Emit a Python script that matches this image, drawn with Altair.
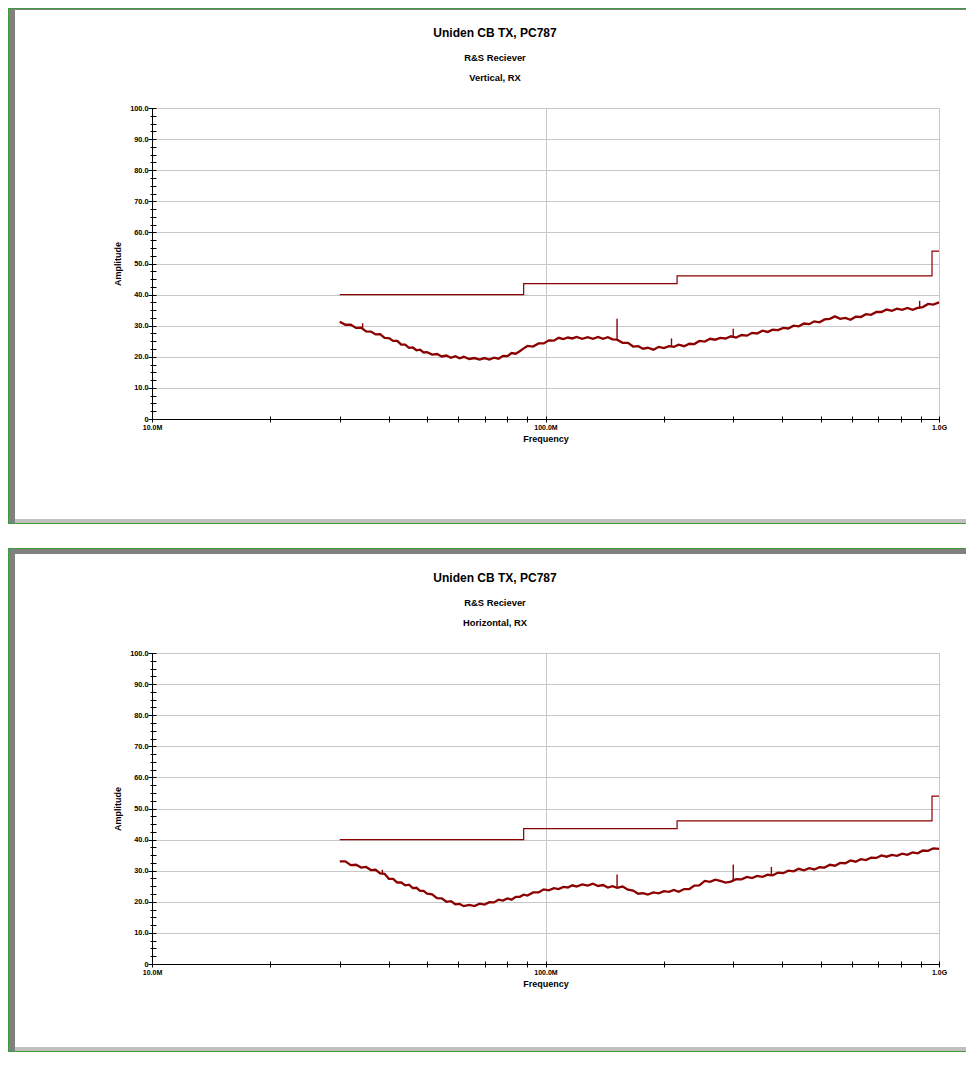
import altair as alt
import pandas as pd

# ---------------- data ----------------
FREQ_MHZ = [30, 31, 32, 33, 34, 35, 36, 37, 38, 39, 40, 41, 42, 43, 44, 45, 46, 47, 48, 49,
            50, 51.5, 53, 54.5, 56, 57.5, 59, 60.5, 62, 64, 66, 68, 70, 72, 74, 76, 78, 80,
            82, 84, 86, 88, 90, 93, 96, 99, 102, 105, 108, 111, 114, 117, 120, 124, 128, 132,
            136, 140, 144, 148, 152, 157, 162, 167, 172, 177, 182, 188, 194, 200, 206, 212,
            218, 225, 232, 239, 246, 254, 262, 270, 278, 287, 296, 305, 315, 325, 335, 345,
            356, 367, 378, 390, 402, 414, 427, 440, 454, 468, 482, 497, 512, 528, 544, 561,
            578, 596, 614, 633, 652, 672, 693, 714, 736, 759, 782, 806, 831, 857, 883, 910,
            938, 967, 1000]

VERTICAL_DB = [31.3, 30.3, 30.3, 29.3, 29.4, 28.2, 28.1, 27.2, 27.3, 26.1,
               26.0, 25.1, 25.1, 23.9, 23.9, 22.9, 23.0, 22.1, 22.3, 21.4,
               21.5, 20.7, 20.9, 20.1, 20.4, 19.7, 20.2, 19.5, 20.0, 19.3,
               19.6, 19.1, 19.6, 19.1, 19.7, 19.4, 20.3, 20.2, 21.2, 21.0,
               21.8, 22.7, 23.5, 23.3, 24.3, 24.3, 25.3, 25.2, 26.1, 25.7,
               26.2, 25.9, 26.4, 25.8, 26.3, 25.8, 26.4, 25.8, 26.3, 25.6,
               25.5, 24.5, 24.5, 23.3, 23.4, 22.6, 22.9, 22.3, 23.2, 22.8,
               23.4, 23.2, 23.9, 23.4, 24.2, 24.1, 25.1, 24.9, 25.8, 25.5,
               26.1, 25.9, 26.6, 26.2, 27.0, 26.8, 27.7, 27.5, 28.4, 28.0,
               28.7, 28.6, 29.3, 29.1, 30.0, 29.8, 30.7, 30.5, 31.4, 31.1,
               32.0, 32.2, 33.0, 32.2, 32.5, 31.9, 32.9, 32.8, 33.7, 33.5,
               34.4, 34.4, 35.2, 34.8, 35.5, 35.1, 35.7, 35.1, 35.7, 36.0,
               37.0, 36.8, 37.5]

HORIZONTAL_DB = [33.0, 33.0, 31.8, 31.9, 31.0, 31.2, 30.2, 30.3, 29.1, 29.0,
                 27.4, 27.4, 26.2, 26.2, 25.3, 25.5, 24.4, 24.5, 23.5, 23.5,
                 22.6, 22.4, 21.2, 21.1, 20.0, 20.2, 19.2, 19.3, 18.6, 19.0,
                 18.6, 19.4, 19.1, 19.9, 19.8, 20.7, 20.4, 21.1, 20.7, 21.6,
                 21.6, 22.3, 22.0, 23.0, 23.0, 24.0, 23.7, 24.4, 24.1, 24.8,
                 24.6, 25.3, 24.9, 25.6, 25.2, 25.8, 25.1, 25.4, 24.6, 25.0,
                 24.5, 24.9, 23.9, 23.6, 22.6, 22.8, 22.3, 23.0, 22.7, 23.4,
                 23.2, 23.8, 23.2, 24.1, 24.1, 25.2, 25.3, 26.7, 26.4, 27.1,
                 26.7, 26.2, 26.5, 27.3, 27.2, 28.0, 27.6, 28.3, 28.0, 28.7,
                 28.5, 29.4, 29.2, 30.0, 29.8, 30.6, 30.1, 30.8, 30.4, 31.1,
                 31.0, 31.9, 31.6, 32.5, 32.4, 33.3, 32.9, 33.7, 33.4, 34.2,
                 34.1, 34.9, 34.5, 35.1, 34.8, 35.5, 35.1, 35.9, 35.6, 36.5,
                 36.4, 37.2, 37.0]

VERTICAL_SPIKE_FREQ = [34.3, 152, 209, 300, 893]
VERTICAL_SPIKE_BASE = [29.3, 25.5, 23.4, 26.3, 35.5]
VERTICAL_SPIKE_PEAK = [30.8, 32.2, 25.9, 29.0, 38.0]

HORIZONTAL_SPIKE_FREQ = [38.5, 152, 300, 375]
HORIZONTAL_SPIKE_BASE = [29.2, 24.7, 26.8, 28.6]
HORIZONTAL_SPIKE_PEAK = [30.3, 28.8, 32.0, 31.2]

LIMIT_FREQ = [30, 88, 88, 216, 216, 960, 960, 1000]
LIMIT_DB = [40, 40, 43.5, 43.5, 46, 46, 54, 54]

X_MAJOR = [10, 100, 1000]
X_ALL_TICKS = [10, 20, 30, 40, 50, 60, 70, 80, 90, 100, 200, 300, 400, 500, 600, 700, 800, 900, 1000]
Y_MAJOR = [0, 10, 20, 30, 40, 50, 60, 70, 80, 90, 100]
Y_ALL_TICKS = [0, 2.5, 5, 7.5, 10, 12.5, 15, 17.5, 20, 22.5, 25, 27.5, 30, 32.5, 35, 37.5, 40,
               42.5, 45, 47.5, 50, 52.5, 55, 57.5, 60, 62.5, 65, 67.5, 70, 72.5, 75, 77.5, 80,
               82.5, 85, 87.5, 90, 92.5, 95, 97.5, 100]

TITLE = "Uniden CB TX, PC787"
RECEIVER = "R&S Reciever"
SUBTITLES = ["Vertical, RX", "Horizontal, RX"]
X_TITLE = "Frequency"
Y_TITLE = "Amplitude"

# ---------------- styling ----------------
FONT = "Liberation Sans"
RED = "#8b0000"
GRID = "#c8c8c8"
GREEN = "#3d9b3d"
DARK = "#808080"
LIGHT = "#c0c0c0"
W, H = 787, 311

ONE = pd.DataFrame({"k": [0]})


def rect(x, x2, y, y2, color):
    return alt.Chart(ONE).mark_rect(color=color, strokeWidth=0).encode(
        x=alt.value(x), x2=alt.value(x2), y=alt.value(y), y2=alt.value(y2))


def label(txt, y, size):
    return alt.Chart(ONE).mark_text(
        text=txt, font=FONT, fontWeight="bold", fontSize=size, align="center",
        baseline="alphabetic", color="black").encode(x=alt.value(343), y=alt.value(y))


def panel(values, sf, sb, sp, subtitle, top, bottom):
    trace_df = pd.DataFrame({"freq": FREQ_MHZ, "db": values})
    limit_df = pd.DataFrame({"i": list(range(len(LIMIT_FREQ))), "freq": LIMIT_FREQ, "db": LIMIT_DB})
    spike_df = pd.DataFrame({"freq": sf, "base": sb, "peak": sp})

    xs = alt.Scale(type="log", domain=[10, 1000], nice=False)
    ys = alt.Scale(domain=[0, 100], nice=False, zero=True)

    x_main = alt.Axis(
        orient="bottom", values=X_MAJOR,
        labelExpr="datum.value >= 1000 ? format(datum.value / 1000, '.1f') + 'G' : format(datum.value, '.1f') + 'M'",
        grid=True, gridColor=GRID, gridWidth=1, ticks=False,
        domain=True, domainColor="black", domainWidth=1,
        labelFont=FONT, labelFontWeight="bold", labelFontSize=7, labelColor="black",
        labelPadding=4, labelFlush=False,
        title=X_TITLE, titleFont=FONT, titleFontWeight="bold", titleFontSize=9,
        titleColor="black", titlePadding=4)
    x_ticks = alt.Axis(
        orient="bottom", values=X_ALL_TICKS, labels=False, grid=False, domain=False,
        ticks=True, tickColor="black", tickWidth=1, tickSize=6, offset=-3, title=None)
    y_main = alt.Axis(
        orient="left", values=Y_MAJOR,
        labelExpr="datum.value == 0 ? '0' : format(datum.value, '.1f')",
        grid=True, gridColor=GRID, gridWidth=1, ticks=False,
        domain=True, domainColor="black", domainWidth=1,
        labelFont=FONT, labelFontWeight="bold", labelFontSize=7.3, labelColor="black",
        labelPadding=4,
        title=Y_TITLE, titleFont=FONT, titleFontWeight="bold", titleFontSize=9,
        titleColor="black", titlePadding=7)
    y_ticks = alt.Axis(
        orient="left", values=Y_ALL_TICKS, labels=False, grid=False, domain=False,
        ticks=True, tickColor="black", tickWidth=1,
        tickSize={"condition": {"test": "datum.value % 10 === 0", "value": 8}, "value": 6},
        offset=-4, title=None)

    limit = alt.Chart(limit_df).mark_line(color=RED, strokeWidth=1.2).encode(
        x=alt.X("freq:Q", scale=xs, axis=x_main),
        y=alt.Y("db:Q", scale=ys, axis=y_main),
        order=alt.Order("i:Q"))
    trace = alt.Chart(trace_df).mark_line(color=RED, strokeWidth=2.3, strokeJoin="miter").encode(
        x=alt.X("freq:Q", scale=xs, axis=x_ticks),
        y=alt.Y("db:Q", scale=ys, axis=y_ticks))
    spikes = alt.Chart(spike_df).mark_rule(color=RED, strokeWidth=1.4).encode(
        x=alt.X("freq:Q", scale=xs, axis=None),
        y=alt.Y("base:Q", scale=ys, axis=None),
        y2="peak:Q")

    deco = [
        rect(-144, -143, top, bottom, GREEN),          # left green edge
        rect(-143, -137, top + 1, bottom - 1, DARK),   # left grey band
        rect(-144, 814, top, top + 1, GREEN),          # top green edge
        rect(-143, 814, top + 1, top + (2 if top > -102 else 6), DARK),  # top grey band
        rect(-137, 814, bottom - 5, bottom - 1, LIGHT),  # bottom light band
        rect(-144, 814, bottom - 1, bottom, GREEN),    # bottom green edge
    ]
    texts = [label(TITLE, -70.7, 12), label(RECEIVER, -47.3, 9.4), label(subtitle, -27.3, 9.4)]

    return alt.layer(*deco, limit, trace, spikes, *texts).properties(
        width=W, height=H).resolve_axis(x="independent", y="independent")


p1 = panel(VERTICAL_DB, VERTICAL_SPIKE_FREQ, VERTICAL_SPIKE_BASE, VERTICAL_SPIKE_PEAK,
           SUBTITLES[0], -100, 416)
p2 = panel(HORIZONTAL_DB, HORIZONTAL_SPIKE_FREQ, HORIZONTAL_SPIKE_BASE, HORIZONTAL_SPIKE_PEAK,
           SUBTITLES[1], -105, 399)

chart = alt.vconcat(p1, p2, spacing=24).properties(
    padding=0, background="white").configure_view(strokeWidth=0)

chart.save("out.html", embed_options={"renderer": "svg", "actions": False})
